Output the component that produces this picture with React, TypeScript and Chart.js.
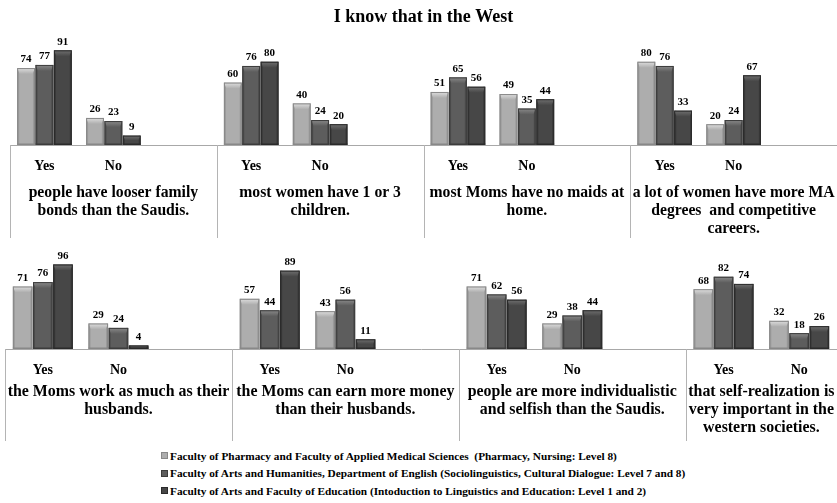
import React, { useEffect, useRef } from "react";
import { Chart, registerables } from "chart.js";

Chart.register(...registerables);

const TITLE = "I know that in the West";

const SERIES_NAMES = [
  "Faculty of Pharmacy and Faculty of Applied Medical Sciences  (Pharmacy, Nursing: Level 8)",
  "Faculty of Arts and Humanities, Department of English (Sociolinguistics, Cultural Dialogue: Level 7 and 8)",
  "Faculty of Arts and Faculty of Education (Intoduction to Linguistics and Education: Level 1 and 2)",
];

const TOP_CATEGORIES = ["Yes", "No", "", "Yes", "No", "", "Yes", "No", "", "Yes", "No", ""];
const BOTTOM_CATEGORIES = ["Yes", "No", "", "Yes", "No", "", "Yes", "No", "", "Yes", "No"];

const TOP_PHARMACY = [74, 26, null, 60, 40, null, 51, 49, null, 80, 20, null];
const TOP_ENGLISH = [77, 23, null, 76, 24, null, 65, 35, null, 76, 24, null];
const TOP_EDUCATION = [91, 9, null, 80, 20, null, 56, 44, null, 33, 67, null];

const BOTTOM_PHARMACY = [71, 29, null, 57, 43, null, 71, 29, null, 68, 32];
const BOTTOM_ENGLISH = [76, 24, null, 44, 56, null, 62, 38, null, 82, 18];
const BOTTOM_EDUCATION = [96, 4, null, 89, 11, null, 56, 44, null, 74, 26];

const TOP_PANELS = [
  ["people have looser family", "bonds than the Saudis."],
  ["most women have 1 or 3", "children."],
  ["most Moms have no maids at", "home."],
  ["a lot of women have more MA", "degrees  and competitive", "careers."],
];
const BOTTOM_PANELS = [
  ["the Moms work as much as their", "husbands."],
  ["the Moms can earn more money", "than their husbands."],
  ["people are more individualistic", "and selfish than the Saudis."],
  ["that self-realization is", "very important in the", "western societies."],
];

const FONT = "'Liberation Serif', 'Times New Roman', serif";
const FILLS = ["#adadad", "#5d5d5d", "#474747"];
const CAPS = ["#dedede", "#8a8a8a", "#707070"];
const EDGES = ["#888888", "#3c3c3c", "#2a2a2a"];

const panelPlugin = {
  id: "panelDecor",
  afterDatasetsDraw(chart: any, _args: any, opts: any) {
    const { ctx, chartArea } = chart;
    const xs = chart.scales.x;
    const labels = chart.data.labels as string[];
    const n = labels.length;
    const slot = (xs.right - xs.left) / n;

    ctx.save();
    // bevel effect on bars
    chart.data.datasets.forEach((ds: any, di: number) => {
      const meta = chart.getDatasetMeta(di);
      meta.data.forEach((bar: any, i: number) => {
        const v = ds.data[i];
        if (v == null) return;
        const { x, y, base, width } = bar.getProps(["x", "y", "base", "width"], true);
        const left = x - width / 2;
        const right = x + width / 2;
        const h = Math.min(6, (base - y) / 2);
        ctx.fillStyle = EDGES[di];
        ctx.globalAlpha = 0.5;
        ctx.fillRect(left, y, 2, base - y);
        ctx.fillRect(right - 2, y, 2, base - y);
        ctx.fillRect(left, base - 2, width, 2);
        ctx.globalAlpha = 1;
        const g = ctx.createLinearGradient(0, y, 0, y + h);
        g.addColorStop(0, CAPS[di]);
        g.addColorStop(1, FILLS[di]);
        ctx.fillStyle = g;
        ctx.beginPath();
        ctx.moveTo(left, y);
        ctx.lineTo(right, y);
        ctx.lineTo(right - 2.5, y + h);
        ctx.lineTo(left + 2.5, y + h);
        ctx.closePath();
        ctx.fill();
        ctx.strokeStyle = EDGES[di];
        ctx.lineWidth = 1;
        ctx.strokeRect(left + 0.5, y + 0.5, width - 1, base - y - 1);
      });
    });

    // data labels
    ctx.fillStyle = "#000";
    ctx.font = `bold 11px ${FONT}`;
    ctx.textAlign = "center";
    ctx.textBaseline = "bottom";
    chart.data.datasets.forEach((ds: any, di: number) => {
      const meta = chart.getDatasetMeta(di);
      meta.data.forEach((bar: any, i: number) => {
        const v = ds.data[i];
        if (v == null) return;
        const { x, y } = bar.getProps(["x", "y"], true);
        ctx.fillText(String(v), x, y - 3);
      });
    });

    // panel separators and labels
    const panels: string[][] = opts.panels;
    ctx.strokeStyle = "#b4b4b4";
    ctx.lineWidth = 1;
    ctx.font = `bold ${opts.labelSize}px ${FONT}`;
    ctx.textBaseline = "middle";
    panels.forEach((lines, p) => {
      const first = p * 3;
      const last = Math.min(p * 3 + 2, n - 1);
      const left = xs.getPixelForValue(first) - slot / 2;
      const right = xs.getPixelForValue(last) + slot / 2;
      const lx = Math.round(left) + 0.5;
      ctx.beginPath();
      ctx.moveTo(lx, chartArea.bottom);
      ctx.lineTo(lx, chartArea.bottom + opts.sepLength);
      ctx.stroke();
      const cx = (left + right) / 2;
      lines.forEach((line, li) => {
        ctx.fillText(line, cx, chartArea.bottom + opts.labelOffset + li * opts.lineGap);
      });
    });
    ctx.restore();
  },
};

function makeConfig(
  labels: string[],
  s1: (number | null)[],
  s2: (number | null)[],
  s3: (number | null)[],
  panels: string[][],
  withTitle: boolean,
  padLeft: number,
  padTop: number,
  axisHeight: number,
  labelOffset: number,
  sepLength: number,
  labelSize: number
): any {
  const series = [s1, s2, s3];
  return {
    type: "bar",
    data: {
      labels,
      datasets: series.map((d, i) => ({
        label: SERIES_NAMES[i],
        data: d,
        backgroundColor: FILLS[i],
        borderWidth: 0,
        categoryPercentage: 0.8,
        barPercentage: 0.97,
      })),
    },
    options: {
      responsive: false,
      animation: false,
      layout: { padding: { left: padLeft, right: 0, top: padTop, bottom: 0 } },
      plugins: {
        legend: { display: false },
        tooltip: { enabled: false },
        title: {
          display: withTitle,
          text: TITLE,
          color: "#000",
          font: { family: FONT, size: 18, weight: "bold" },
          padding: { top: 7, bottom: 12.4 },
        },
        panelDecor: { panels, labelOffset, lineGap: 18, sepLength, labelSize },
      },
      scales: {
        x: {
          grid: { display: false },
          border: { display: true, color: "#a8a8a8", width: 1 },
          ticks: {
            color: "#000",
            font: { family: FONT, size: 14, weight: "bold" },
            padding: 5,
            maxRotation: 0,
            autoSkip: false,
          },
          afterFit: (s: any) => {
            s.height = axisHeight;
          },
        },
        y: { display: false, min: 0, max: 100 },
      },
    },
    plugins: [panelPlugin],
  };
}

export default function App() {
  const topRef = useRef<HTMLCanvasElement>(null);
  const botRef = useRef<HTMLCanvasElement>(null);

  useEffect(() => {
    const top = new Chart(
      topRef.current as HTMLCanvasElement,
      makeConfig(TOP_CATEGORIES, TOP_PHARMACY, TOP_ENGLISH, TOP_EDUCATION, TOP_PANELS, true, 10, 0, 95, 48, 93, 15.7)
    );
    const bot = new Chart(
      botRef.current as HTMLCanvasElement,
      makeConfig(BOTTOM_CATEGORIES, BOTTOM_PHARMACY, BOTTOM_ENGLISH, BOTTOM_EDUCATION, BOTTOM_PANELS, false, 5, 21, 96, 43, 92, 15.9)
    );
    return () => {
      top.destroy();
      bot.destroy();
    };
  }, []);

  return (
    <div
      style={{
        position: "absolute",
        left: 0,
        top: 0,
        width: 837,
        height: 503,
        overflow: "hidden",
        background: "#fff",
      }}
    >
      <canvas ref={topRef} width={837} height={240} style={{ position: "absolute", left: 0, top: 0 }} />
      <canvas ref={botRef} width={837} height={205} style={{ position: "absolute", left: 0, top: 240 }} />
      <div style={{ position: "absolute", left: 161, top: 447 }}>
        {SERIES_NAMES.map((name, i) => (
          <div
            key={i}
            style={{
              display: "flex",
              alignItems: "center",
              height: 17.5,
              fontFamily: FONT,
              fontWeight: "bold",
              fontSize: 11.3,
              color: "#000",
              whiteSpace: "pre",
            }}
          >
            <span
              style={{
                display: "inline-block",
                width: 5,
                height: 5,
                background: FILLS[i],
                border: `1px solid ${EDGES[i]}`,
                marginRight: 2,
              }}
            />
            {name}
          </div>
        ))}
      </div>
    </div>
  );
}
